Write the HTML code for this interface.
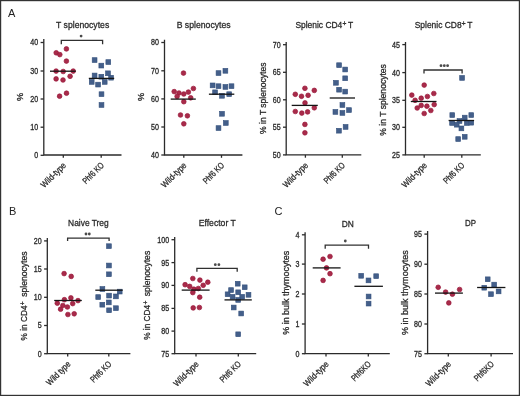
<!DOCTYPE html><html><head><meta charset="utf-8"><style>html,body{margin:0;padding:0;background:#fff;}svg{display:block;will-change:transform;}text{font-family:"Liberation Sans",sans-serif;stroke:#2a2a2a;stroke-width:0.3px;}</style></head><body>
<svg width="520" height="396" viewBox="0 0 520 396">
<rect x="0" y="0" width="520" height="396" fill="#fff"/>
<rect x="0.6" y="0.6" width="518.8" height="394.8" fill="none" stroke="#333" stroke-width="1.2"/>
<text x="8.0" y="16.9" font-size="11" fill="#222" style="stroke-width:0">A</text>
<text x="9.0" y="215.0" font-size="11" fill="#222" style="stroke-width:0">B</text>
<text x="274.6" y="215.0" font-size="11" fill="#222" style="stroke-width:0">C</text>
<g stroke="#2b2b2b" stroke-width="1.3" fill="none" stroke-linecap="butt">
<path d="M43.8 39.0 V155.0 H121.5"/>
<path d="M40.599999999999994 42.5 H43.8"/>
<path d="M40.599999999999994 71.0 H43.8"/>
<path d="M40.599999999999994 99.0 H43.8"/>
<path d="M40.599999999999994 127.2 H43.8"/>
<path d="M40.599999999999994 155.3 H43.8"/>
<path d="M63.3 155.0 V157.8"/>
<path d="M101.2 155.0 V157.8"/>
</g>
<text x="38.199999999999996" y="45.45" font-size="8.2" fill="#2a2a2a" text-anchor="end" textLength="7.90" lengthAdjust="spacingAndGlyphs">40</text>
<text x="38.199999999999996" y="73.95" font-size="8.2" fill="#2a2a2a" text-anchor="end" textLength="7.90" lengthAdjust="spacingAndGlyphs">30</text>
<text x="38.199999999999996" y="101.95" font-size="8.2" fill="#2a2a2a" text-anchor="end" textLength="7.90" lengthAdjust="spacingAndGlyphs">20</text>
<text x="38.199999999999996" y="130.15" font-size="8.2" fill="#2a2a2a" text-anchor="end" textLength="7.90" lengthAdjust="spacingAndGlyphs">10</text>
<text x="38.199999999999996" y="158.25" font-size="8.2" fill="#2a2a2a" text-anchor="end" textLength="3.95" lengthAdjust="spacingAndGlyphs">0</text>
<circle cx="66.4" cy="48.9" r="2.35" fill="#A82B4A" stroke="#99173A" stroke-width="0.7"/>
<circle cx="56.2" cy="52.8" r="2.35" fill="#A82B4A" stroke="#99173A" stroke-width="0.7"/>
<circle cx="59.8" cy="54.6" r="2.35" fill="#A82B4A" stroke="#99173A" stroke-width="0.7"/>
<circle cx="66.4" cy="61.1" r="2.35" fill="#A82B4A" stroke="#99173A" stroke-width="0.7"/>
<circle cx="56.1" cy="71.1" r="2.35" fill="#A82B4A" stroke="#99173A" stroke-width="0.7"/>
<circle cx="63.2" cy="71.5" r="2.35" fill="#A82B4A" stroke="#99173A" stroke-width="0.7"/>
<circle cx="73.2" cy="71.1" r="2.35" fill="#A82B4A" stroke="#99173A" stroke-width="0.7"/>
<circle cx="56.1" cy="78.9" r="2.35" fill="#A82B4A" stroke="#99173A" stroke-width="0.7"/>
<circle cx="63" cy="80" r="2.35" fill="#A82B4A" stroke="#99173A" stroke-width="0.7"/>
<circle cx="70.1" cy="76.3" r="2.35" fill="#A82B4A" stroke="#99173A" stroke-width="0.7"/>
<circle cx="59.6" cy="96.2" r="2.35" fill="#A82B4A" stroke="#99173A" stroke-width="0.7"/>
<circle cx="66.5" cy="93.2" r="2.35" fill="#A82B4A" stroke="#99173A" stroke-width="0.7"/>
<rect x="92.20" y="57.70" width="4.80" height="4.80" fill="#445F8A" stroke="#34507C" stroke-width="0.6"/>
<rect x="105.90" y="59.70" width="4.80" height="4.80" fill="#445F8A" stroke="#34507C" stroke-width="0.6"/>
<rect x="98.90" y="63.20" width="4.80" height="4.80" fill="#445F8A" stroke="#34507C" stroke-width="0.6"/>
<rect x="92.20" y="73.10" width="4.80" height="4.80" fill="#445F8A" stroke="#34507C" stroke-width="0.6"/>
<rect x="98.90" y="74.30" width="4.80" height="4.80" fill="#445F8A" stroke="#34507C" stroke-width="0.6"/>
<rect x="105.60" y="70.90" width="4.80" height="4.80" fill="#445F8A" stroke="#34507C" stroke-width="0.6"/>
<rect x="108.70" y="75.30" width="4.80" height="4.80" fill="#445F8A" stroke="#34507C" stroke-width="0.6"/>
<rect x="89.30" y="79.50" width="4.80" height="4.80" fill="#445F8A" stroke="#34507C" stroke-width="0.6"/>
<rect x="95.70" y="82.20" width="4.80" height="4.80" fill="#445F8A" stroke="#34507C" stroke-width="0.6"/>
<rect x="102.30" y="79.50" width="4.80" height="4.80" fill="#445F8A" stroke="#34507C" stroke-width="0.6"/>
<rect x="99.10" y="91.80" width="4.80" height="4.80" fill="#445F8A" stroke="#34507C" stroke-width="0.6"/>
<rect x="99.10" y="102.60" width="4.80" height="4.80" fill="#445F8A" stroke="#34507C" stroke-width="0.6"/>
<path d="M50 71.2 H75.8" stroke="#151515" stroke-width="1.3"/>
<path d="M88.8 78.4 H114.2" stroke="#151515" stroke-width="1.3"/>
<path d="M61.3 44.3 V40.3 H102.6 V44.3" stroke="#303030" stroke-width="1.3" fill="none"/>
<circle cx="81.1" cy="36.1" r="1.4" fill="#4a4a4a"/>
<text x="56.1" y="28.2" font-size="9.6" fill="#2a2a2a" textLength="53.10" lengthAdjust="spacingAndGlyphs">T splenocytes</text>
<text transform="translate(23.2,97) rotate(-90)" font-size="9.2" fill="#2a2a2a" text-anchor="middle">%</text>
<text transform="translate(66.6,166.0) rotate(-45)" font-size="8.8" fill="#2a2a2a" text-anchor="end" textLength="31.50" lengthAdjust="spacingAndGlyphs">Wild-type</text>
<text transform="translate(104.5,166.0) rotate(-45)" font-size="8.8" fill="#2a2a2a" text-anchor="end" textLength="26.00" lengthAdjust="spacingAndGlyphs">Phf6 KO</text>
<g stroke="#2b2b2b" stroke-width="1.3" fill="none" stroke-linecap="butt">
<path d="M164.5 39.7 V155.0 H242.4"/>
<path d="M161.3 42.5 H164.5"/>
<path d="M161.3 70.8 H164.5"/>
<path d="M161.3 98.9 H164.5"/>
<path d="M161.3 127.0 H164.5"/>
<path d="M161.3 155.0 H164.5"/>
<path d="M183.8 155.0 V157.8"/>
<path d="M221.5 155.0 V157.8"/>
</g>
<text x="158.9" y="45.45" font-size="8.2" fill="#2a2a2a" text-anchor="end" textLength="7.90" lengthAdjust="spacingAndGlyphs">80</text>
<text x="158.9" y="73.75" font-size="8.2" fill="#2a2a2a" text-anchor="end" textLength="7.90" lengthAdjust="spacingAndGlyphs">70</text>
<text x="158.9" y="101.85" font-size="8.2" fill="#2a2a2a" text-anchor="end" textLength="7.90" lengthAdjust="spacingAndGlyphs">60</text>
<text x="158.9" y="129.95" font-size="8.2" fill="#2a2a2a" text-anchor="end" textLength="7.90" lengthAdjust="spacingAndGlyphs">50</text>
<text x="158.9" y="157.95" font-size="8.2" fill="#2a2a2a" text-anchor="end" textLength="7.90" lengthAdjust="spacingAndGlyphs">40</text>
<circle cx="183.5" cy="73.1" r="2.35" fill="#A82B4A" stroke="#99173A" stroke-width="0.7"/>
<circle cx="193.4" cy="88.5" r="2.35" fill="#A82B4A" stroke="#99173A" stroke-width="0.7"/>
<circle cx="174.2" cy="91.6" r="2.35" fill="#A82B4A" stroke="#99173A" stroke-width="0.7"/>
<circle cx="179" cy="93" r="2.35" fill="#A82B4A" stroke="#99173A" stroke-width="0.7"/>
<circle cx="183.8" cy="94" r="2.35" fill="#A82B4A" stroke="#99173A" stroke-width="0.7"/>
<circle cx="188.4" cy="92.1" r="2.35" fill="#A82B4A" stroke="#99173A" stroke-width="0.7"/>
<circle cx="177.1" cy="96.4" r="2.35" fill="#A82B4A" stroke="#99173A" stroke-width="0.7"/>
<circle cx="190.7" cy="97.8" r="2.35" fill="#A82B4A" stroke="#99173A" stroke-width="0.7"/>
<circle cx="183.8" cy="101.7" r="2.35" fill="#A82B4A" stroke="#99173A" stroke-width="0.7"/>
<circle cx="180.5" cy="115" r="2.35" fill="#A82B4A" stroke="#99173A" stroke-width="0.7"/>
<circle cx="187.4" cy="115.8" r="2.35" fill="#A82B4A" stroke="#99173A" stroke-width="0.7"/>
<circle cx="183.8" cy="123.8" r="2.35" fill="#A82B4A" stroke="#99173A" stroke-width="0.7"/>
<rect x="216.10" y="70.70" width="4.80" height="4.80" fill="#445F8A" stroke="#34507C" stroke-width="0.6"/>
<rect x="223.00" y="68.40" width="4.80" height="4.80" fill="#445F8A" stroke="#34507C" stroke-width="0.6"/>
<rect x="210.20" y="83.00" width="4.80" height="4.80" fill="#445F8A" stroke="#34507C" stroke-width="0.6"/>
<rect x="216.10" y="83.80" width="4.80" height="4.80" fill="#445F8A" stroke="#34507C" stroke-width="0.6"/>
<rect x="223.00" y="84.50" width="4.80" height="4.80" fill="#445F8A" stroke="#34507C" stroke-width="0.6"/>
<rect x="229.10" y="83.80" width="4.80" height="4.80" fill="#445F8A" stroke="#34507C" stroke-width="0.6"/>
<rect x="212.70" y="89.90" width="4.80" height="4.80" fill="#445F8A" stroke="#34507C" stroke-width="0.6"/>
<rect x="219.60" y="93.40" width="4.80" height="4.80" fill="#445F8A" stroke="#34507C" stroke-width="0.6"/>
<rect x="226.80" y="91.80" width="4.80" height="4.80" fill="#445F8A" stroke="#34507C" stroke-width="0.6"/>
<rect x="219.60" y="111.40" width="4.80" height="4.80" fill="#445F8A" stroke="#34507C" stroke-width="0.6"/>
<rect x="223.40" y="120.60" width="4.80" height="4.80" fill="#445F8A" stroke="#34507C" stroke-width="0.6"/>
<rect x="216.10" y="125.70" width="4.80" height="4.80" fill="#445F8A" stroke="#34507C" stroke-width="0.6"/>
<path d="M170.7 99.1 H195.8" stroke="#151515" stroke-width="1.3"/>
<path d="M208.9 94.2 H234.3" stroke="#151515" stroke-width="1.3"/>
<text x="176.7" y="28.2" font-size="9.6" fill="#2a2a2a" textLength="53.90" lengthAdjust="spacingAndGlyphs">B splenocytes</text>
<text transform="translate(144.4,97) rotate(-90)" font-size="9.2" fill="#2a2a2a" text-anchor="middle">%</text>
<text transform="translate(187.10000000000002,166.0) rotate(-45)" font-size="8.8" fill="#2a2a2a" text-anchor="end" textLength="31.50" lengthAdjust="spacingAndGlyphs">Wild-type</text>
<text transform="translate(224.8,166.0) rotate(-45)" font-size="8.8" fill="#2a2a2a" text-anchor="end" textLength="26.00" lengthAdjust="spacingAndGlyphs">Phf6 KO</text>
<g stroke="#2b2b2b" stroke-width="1.3" fill="none" stroke-linecap="butt">
<path d="M286.2 42.1 V154.9 H361.3"/>
<path d="M283.0 44.7 H286.2"/>
<path d="M283.0 72.3 H286.2"/>
<path d="M283.0 99.8 H286.2"/>
<path d="M283.0 127.2 H286.2"/>
<path d="M283.0 154.9 H286.2"/>
<path d="M305.4 154.9 V157.70000000000002"/>
<path d="M342.3 154.9 V157.70000000000002"/>
</g>
<text x="280.59999999999997" y="47.65" font-size="8.2" fill="#2a2a2a" text-anchor="end" textLength="7.90" lengthAdjust="spacingAndGlyphs">70</text>
<text x="280.59999999999997" y="75.25" font-size="8.2" fill="#2a2a2a" text-anchor="end" textLength="7.90" lengthAdjust="spacingAndGlyphs">65</text>
<text x="280.59999999999997" y="102.75" font-size="8.2" fill="#2a2a2a" text-anchor="end" textLength="7.90" lengthAdjust="spacingAndGlyphs">60</text>
<text x="280.59999999999997" y="130.15" font-size="8.2" fill="#2a2a2a" text-anchor="end" textLength="7.90" lengthAdjust="spacingAndGlyphs">55</text>
<text x="280.59999999999997" y="157.85" font-size="8.2" fill="#2a2a2a" text-anchor="end" textLength="7.90" lengthAdjust="spacingAndGlyphs">50</text>
<circle cx="304.9" cy="88.3" r="2.35" fill="#A82B4A" stroke="#99173A" stroke-width="0.7"/>
<circle cx="314.3" cy="90.4" r="2.35" fill="#A82B4A" stroke="#99173A" stroke-width="0.7"/>
<circle cx="295.3" cy="94.3" r="2.35" fill="#A82B4A" stroke="#99173A" stroke-width="0.7"/>
<circle cx="301.5" cy="96.3" r="2.35" fill="#A82B4A" stroke="#99173A" stroke-width="0.7"/>
<circle cx="308.1" cy="95.3" r="2.35" fill="#A82B4A" stroke="#99173A" stroke-width="0.7"/>
<circle cx="305" cy="102.9" r="2.35" fill="#A82B4A" stroke="#99173A" stroke-width="0.7"/>
<circle cx="314.3" cy="107.8" r="2.35" fill="#A82B4A" stroke="#99173A" stroke-width="0.7"/>
<circle cx="295.3" cy="111.5" r="2.35" fill="#A82B4A" stroke="#99173A" stroke-width="0.7"/>
<circle cx="301.8" cy="113.1" r="2.35" fill="#A82B4A" stroke="#99173A" stroke-width="0.7"/>
<circle cx="307.6" cy="111.9" r="2.35" fill="#A82B4A" stroke="#99173A" stroke-width="0.7"/>
<circle cx="304.9" cy="124.4" r="2.35" fill="#A82B4A" stroke="#99173A" stroke-width="0.7"/>
<circle cx="304.9" cy="132.8" r="2.35" fill="#A82B4A" stroke="#99173A" stroke-width="0.7"/>
<rect x="336.70" y="62.80" width="4.80" height="4.80" fill="#445F8A" stroke="#34507C" stroke-width="0.6"/>
<rect x="342.80" y="67.10" width="4.80" height="4.80" fill="#445F8A" stroke="#34507C" stroke-width="0.6"/>
<rect x="342.80" y="75.90" width="4.80" height="4.80" fill="#445F8A" stroke="#34507C" stroke-width="0.6"/>
<rect x="333.50" y="80.40" width="4.80" height="4.80" fill="#445F8A" stroke="#34507C" stroke-width="0.6"/>
<rect x="336.70" y="87.30" width="4.80" height="4.80" fill="#445F8A" stroke="#34507C" stroke-width="0.6"/>
<rect x="342.80" y="89.20" width="4.80" height="4.80" fill="#445F8A" stroke="#34507C" stroke-width="0.6"/>
<rect x="340.00" y="102.60" width="4.80" height="4.80" fill="#445F8A" stroke="#34507C" stroke-width="0.6"/>
<rect x="333.00" y="109.50" width="4.80" height="4.80" fill="#445F8A" stroke="#34507C" stroke-width="0.6"/>
<rect x="340.00" y="110.50" width="4.80" height="4.80" fill="#445F8A" stroke="#34507C" stroke-width="0.6"/>
<rect x="346.60" y="107.70" width="4.80" height="4.80" fill="#445F8A" stroke="#34507C" stroke-width="0.6"/>
<rect x="343.20" y="124.50" width="4.80" height="4.80" fill="#445F8A" stroke="#34507C" stroke-width="0.6"/>
<rect x="336.50" y="128.30" width="4.80" height="4.80" fill="#445F8A" stroke="#34507C" stroke-width="0.6"/>
<path d="M291.7 105.4 H317.8" stroke="#151515" stroke-width="1.3"/>
<path d="M329.7 98.0 H355" stroke="#151515" stroke-width="1.3"/>
<text x="295.4" y="28.3" font-size="9.6" fill="#2a2a2a" textLength="46.9" lengthAdjust="spacingAndGlyphs">Splenic CD4</text>
<text x="342.40" y="26.20" font-size="7" fill="#2a2a2a" textLength="3.9" lengthAdjust="spacingAndGlyphs">+</text>
<text x="347.90" y="28.3" font-size="9.6" fill="#2a2a2a" textLength="5.2" lengthAdjust="spacingAndGlyphs">T</text>
<text transform="translate(265.6,133.9) rotate(-90)" font-size="9.2" fill="#2a2a2a" textLength="71.30" lengthAdjust="spacingAndGlyphs">% in T splenocytes</text>
<text transform="translate(308.7,165.9) rotate(-45)" font-size="8.8" fill="#2a2a2a" text-anchor="end" textLength="31.50" lengthAdjust="spacingAndGlyphs">Wild-type</text>
<text transform="translate(345.6,165.9) rotate(-45)" font-size="8.8" fill="#2a2a2a" text-anchor="end" textLength="26.00" lengthAdjust="spacingAndGlyphs">Phf6 KO</text>
<g stroke="#2b2b2b" stroke-width="1.3" fill="none" stroke-linecap="butt">
<path d="M405.5 42.1 V154.9 H480.8"/>
<path d="M402.3 44.6 H405.5"/>
<path d="M402.3 72.6 H405.5"/>
<path d="M402.3 100.3 H405.5"/>
<path d="M402.3 127.3 H405.5"/>
<path d="M402.3 154.9 H405.5"/>
<path d="M424.2 154.9 V157.70000000000002"/>
<path d="M461.8 154.9 V157.70000000000002"/>
</g>
<text x="399.9" y="47.55" font-size="8.2" fill="#2a2a2a" text-anchor="end" textLength="7.90" lengthAdjust="spacingAndGlyphs">45</text>
<text x="399.9" y="75.55" font-size="8.2" fill="#2a2a2a" text-anchor="end" textLength="7.90" lengthAdjust="spacingAndGlyphs">40</text>
<text x="399.9" y="103.25" font-size="8.2" fill="#2a2a2a" text-anchor="end" textLength="7.90" lengthAdjust="spacingAndGlyphs">35</text>
<text x="399.9" y="130.25" font-size="8.2" fill="#2a2a2a" text-anchor="end" textLength="7.90" lengthAdjust="spacingAndGlyphs">30</text>
<text x="399.9" y="157.85" font-size="8.2" fill="#2a2a2a" text-anchor="end" textLength="7.90" lengthAdjust="spacingAndGlyphs">25</text>
<circle cx="424.2" cy="85.1" r="2.35" fill="#A82B4A" stroke="#99173A" stroke-width="0.7"/>
<circle cx="411.8" cy="95.1" r="2.35" fill="#A82B4A" stroke="#99173A" stroke-width="0.7"/>
<circle cx="433.8" cy="93.5" r="2.35" fill="#A82B4A" stroke="#99173A" stroke-width="0.7"/>
<circle cx="427.4" cy="96.5" r="2.35" fill="#A82B4A" stroke="#99173A" stroke-width="0.7"/>
<circle cx="421.2" cy="98.2" r="2.35" fill="#A82B4A" stroke="#99173A" stroke-width="0.7"/>
<circle cx="415.1" cy="100.3" r="2.35" fill="#A82B4A" stroke="#99173A" stroke-width="0.7"/>
<circle cx="434.2" cy="104.6" r="2.35" fill="#A82B4A" stroke="#99173A" stroke-width="0.7"/>
<circle cx="421.2" cy="105.4" r="2.35" fill="#A82B4A" stroke="#99173A" stroke-width="0.7"/>
<circle cx="426.9" cy="106.2" r="2.35" fill="#A82B4A" stroke="#99173A" stroke-width="0.7"/>
<circle cx="417.2" cy="108" r="2.35" fill="#A82B4A" stroke="#99173A" stroke-width="0.7"/>
<circle cx="430.8" cy="110.5" r="2.35" fill="#A82B4A" stroke="#99173A" stroke-width="0.7"/>
<circle cx="424.2" cy="113.5" r="2.35" fill="#A82B4A" stroke="#99173A" stroke-width="0.7"/>
<rect x="459.70" y="75.50" width="4.80" height="4.80" fill="#445F8A" stroke="#34507C" stroke-width="0.6"/>
<rect x="449.90" y="112.70" width="4.80" height="4.80" fill="#445F8A" stroke="#34507C" stroke-width="0.6"/>
<rect x="468.90" y="112.70" width="4.80" height="4.80" fill="#445F8A" stroke="#34507C" stroke-width="0.6"/>
<rect x="462.30" y="115.20" width="4.80" height="4.80" fill="#445F8A" stroke="#34507C" stroke-width="0.6"/>
<rect x="457.10" y="118.60" width="4.80" height="4.80" fill="#445F8A" stroke="#34507C" stroke-width="0.6"/>
<rect x="449.70" y="120.60" width="4.80" height="4.80" fill="#445F8A" stroke="#34507C" stroke-width="0.6"/>
<rect x="454.30" y="122.30" width="4.80" height="4.80" fill="#445F8A" stroke="#34507C" stroke-width="0.6"/>
<rect x="459.00" y="126.00" width="4.80" height="4.80" fill="#445F8A" stroke="#34507C" stroke-width="0.6"/>
<rect x="464.40" y="120.60" width="4.80" height="4.80" fill="#445F8A" stroke="#34507C" stroke-width="0.6"/>
<rect x="468.90" y="120.30" width="4.80" height="4.80" fill="#445F8A" stroke="#34507C" stroke-width="0.6"/>
<rect x="455.80" y="136.70" width="4.80" height="4.80" fill="#445F8A" stroke="#34507C" stroke-width="0.6"/>
<rect x="462.30" y="134.40" width="4.80" height="4.80" fill="#445F8A" stroke="#34507C" stroke-width="0.6"/>
<path d="M410.8 101.5 H436.5" stroke="#151515" stroke-width="1.3"/>
<path d="M448.6 120.5 H474.1" stroke="#151515" stroke-width="1.3"/>
<path d="M424.0 73.6 V70.0 H462.1 V73.6" stroke="#303030" stroke-width="1.3" fill="none"/>
<circle cx="441.0" cy="65.7" r="1.4" fill="#4a4a4a"/>
<circle cx="444.3" cy="65.7" r="1.4" fill="#4a4a4a"/>
<circle cx="447.6" cy="65.7" r="1.4" fill="#4a4a4a"/>
<text x="414.7" y="28.3" font-size="9.6" fill="#2a2a2a" textLength="46.9" lengthAdjust="spacingAndGlyphs">Splenic CD8</text>
<text x="461.70" y="26.20" font-size="7" fill="#2a2a2a" textLength="3.9" lengthAdjust="spacingAndGlyphs">+</text>
<text x="467.20" y="28.3" font-size="9.6" fill="#2a2a2a" textLength="5.2" lengthAdjust="spacingAndGlyphs">T</text>
<text transform="translate(385.6,135.7) rotate(-90)" font-size="9.2" fill="#2a2a2a" textLength="71.60" lengthAdjust="spacingAndGlyphs">% in T splenocytes</text>
<text transform="translate(427.5,165.9) rotate(-45)" font-size="8.8" fill="#2a2a2a" text-anchor="end" textLength="31.50" lengthAdjust="spacingAndGlyphs">Wild-type</text>
<text transform="translate(465.1,165.9) rotate(-45)" font-size="8.8" fill="#2a2a2a" text-anchor="end" textLength="26.00" lengthAdjust="spacingAndGlyphs">Phf6 KO</text>
<g stroke="#2b2b2b" stroke-width="1.3" fill="none" stroke-linecap="butt">
<path d="M47.3 237.9 V353.7 H130.4"/>
<path d="M44.099999999999994 240.9 H47.3"/>
<path d="M44.099999999999994 269.0 H47.3"/>
<path d="M44.099999999999994 297.3 H47.3"/>
<path d="M44.099999999999994 325.5 H47.3"/>
<path d="M44.099999999999994 353.7 H47.3"/>
<path d="M67.7 353.7 V356.5"/>
<path d="M108.8 353.7 V356.5"/>
</g>
<text x="41.699999999999996" y="243.85" font-size="8.2" fill="#2a2a2a" text-anchor="end" textLength="7.90" lengthAdjust="spacingAndGlyphs">20</text>
<text x="41.699999999999996" y="271.95" font-size="8.2" fill="#2a2a2a" text-anchor="end" textLength="7.90" lengthAdjust="spacingAndGlyphs">15</text>
<text x="41.699999999999996" y="300.25" font-size="8.2" fill="#2a2a2a" text-anchor="end" textLength="7.90" lengthAdjust="spacingAndGlyphs">10</text>
<text x="41.699999999999996" y="328.45" font-size="8.2" fill="#2a2a2a" text-anchor="end" textLength="3.95" lengthAdjust="spacingAndGlyphs">5</text>
<text x="41.699999999999996" y="356.65" font-size="8.2" fill="#2a2a2a" text-anchor="end" textLength="3.95" lengthAdjust="spacingAndGlyphs">0</text>
<circle cx="64.1" cy="273.6" r="2.35" fill="#A82B4A" stroke="#99173A" stroke-width="0.7"/>
<circle cx="71.2" cy="276.4" r="2.35" fill="#A82B4A" stroke="#99173A" stroke-width="0.7"/>
<circle cx="64.4" cy="299.7" r="2.35" fill="#A82B4A" stroke="#99173A" stroke-width="0.7"/>
<circle cx="70.9" cy="297.9" r="2.35" fill="#A82B4A" stroke="#99173A" stroke-width="0.7"/>
<circle cx="78" cy="300.6" r="2.35" fill="#A82B4A" stroke="#99173A" stroke-width="0.7"/>
<circle cx="57.3" cy="303.2" r="2.35" fill="#A82B4A" stroke="#99173A" stroke-width="0.7"/>
<circle cx="62.9" cy="305.5" r="2.35" fill="#A82B4A" stroke="#99173A" stroke-width="0.7"/>
<circle cx="72.7" cy="303.6" r="2.35" fill="#A82B4A" stroke="#99173A" stroke-width="0.7"/>
<circle cx="67.4" cy="307" r="2.35" fill="#A82B4A" stroke="#99173A" stroke-width="0.7"/>
<circle cx="60.6" cy="309.2" r="2.35" fill="#A82B4A" stroke="#99173A" stroke-width="0.7"/>
<circle cx="67.9" cy="314.5" r="2.35" fill="#A82B4A" stroke="#99173A" stroke-width="0.7"/>
<circle cx="74.2" cy="313.8" r="2.35" fill="#A82B4A" stroke="#99173A" stroke-width="0.7"/>
<rect x="106.50" y="243.80" width="4.80" height="4.80" fill="#445F8A" stroke="#34507C" stroke-width="0.6"/>
<rect x="106.50" y="263.10" width="4.80" height="4.80" fill="#445F8A" stroke="#34507C" stroke-width="0.6"/>
<rect x="106.50" y="271.90" width="4.80" height="4.80" fill="#445F8A" stroke="#34507C" stroke-width="0.6"/>
<rect x="100.00" y="286.60" width="4.80" height="4.80" fill="#445F8A" stroke="#34507C" stroke-width="0.6"/>
<rect x="117.30" y="289.20" width="4.80" height="4.80" fill="#445F8A" stroke="#34507C" stroke-width="0.6"/>
<rect x="95.80" y="294.70" width="4.80" height="4.80" fill="#445F8A" stroke="#34507C" stroke-width="0.6"/>
<rect x="106.70" y="293.20" width="4.80" height="4.80" fill="#445F8A" stroke="#34507C" stroke-width="0.6"/>
<rect x="113.50" y="294.00" width="4.80" height="4.80" fill="#445F8A" stroke="#34507C" stroke-width="0.6"/>
<rect x="106.40" y="300.00" width="4.80" height="4.80" fill="#445F8A" stroke="#34507C" stroke-width="0.6"/>
<rect x="99.90" y="302.30" width="4.80" height="4.80" fill="#445F8A" stroke="#34507C" stroke-width="0.6"/>
<rect x="106.70" y="307.90" width="4.80" height="4.80" fill="#445F8A" stroke="#34507C" stroke-width="0.6"/>
<rect x="113.50" y="305.80" width="4.80" height="4.80" fill="#445F8A" stroke="#34507C" stroke-width="0.6"/>
<path d="M54.2 300.5 H81.8" stroke="#151515" stroke-width="1.3"/>
<path d="M95.3 290.2 H122.7" stroke="#151515" stroke-width="1.3"/>
<path d="M67.6 240.9 V238.1 H109.1 V240.9" stroke="#303030" stroke-width="1.3" fill="none"/>
<circle cx="86.0" cy="234.0" r="1.4" fill="#4a4a4a"/>
<circle cx="89.3" cy="234.0" r="1.4" fill="#4a4a4a"/>
<text x="68.1" y="225.9" font-size="9.6" fill="#2a2a2a" textLength="40.60" lengthAdjust="spacingAndGlyphs">Naive Treg</text>
<g transform="translate(26.9,340.4) rotate(-90)">
<text x="0" y="0" font-size="9.2" fill="#2a2a2a" textLength="34.9" lengthAdjust="spacingAndGlyphs">% in CD4</text>
<text x="35.2" y="-2.3" font-size="6.5" fill="#2a2a2a" textLength="3.9" lengthAdjust="spacingAndGlyphs">+</text>
<text x="43.60" y="0" font-size="9.2" fill="#2a2a2a" textLength="45.40" lengthAdjust="spacingAndGlyphs">splenocytes</text>
</g>
<text transform="translate(71.0,364.7) rotate(-45)" font-size="8.8" fill="#2a2a2a" text-anchor="end" textLength="30.00" lengthAdjust="spacingAndGlyphs">Wild type</text>
<text transform="translate(112.1,364.7) rotate(-45)" font-size="8.8" fill="#2a2a2a" text-anchor="end" textLength="26.00" lengthAdjust="spacingAndGlyphs">Phf6 KO</text>
<g stroke="#2b2b2b" stroke-width="1.3" fill="none" stroke-linecap="butt">
<path d="M174.7 237.0 V353.7 H256.2"/>
<path d="M171.5 239.7 H174.7"/>
<path d="M171.5 262.6 H174.7"/>
<path d="M171.5 285.4 H174.7"/>
<path d="M171.5 308.4 H174.7"/>
<path d="M171.5 331.1 H174.7"/>
<path d="M171.5 353.7 H174.7"/>
<path d="M196.0 353.7 V356.5"/>
<path d="M238.3 353.7 V356.5"/>
</g>
<text x="169.1" y="242.65" font-size="8.2" fill="#2a2a2a" text-anchor="end" textLength="11.85" lengthAdjust="spacingAndGlyphs">100</text>
<text x="169.1" y="265.55" font-size="8.2" fill="#2a2a2a" text-anchor="end" textLength="7.90" lengthAdjust="spacingAndGlyphs">95</text>
<text x="169.1" y="288.35" font-size="8.2" fill="#2a2a2a" text-anchor="end" textLength="7.90" lengthAdjust="spacingAndGlyphs">90</text>
<text x="169.1" y="311.35" font-size="8.2" fill="#2a2a2a" text-anchor="end" textLength="7.90" lengthAdjust="spacingAndGlyphs">85</text>
<text x="169.1" y="334.05" font-size="8.2" fill="#2a2a2a" text-anchor="end" textLength="7.90" lengthAdjust="spacingAndGlyphs">80</text>
<text x="169.1" y="356.65" font-size="8.2" fill="#2a2a2a" text-anchor="end" textLength="7.90" lengthAdjust="spacingAndGlyphs">75</text>
<circle cx="192.8" cy="278.5" r="2.35" fill="#A82B4A" stroke="#99173A" stroke-width="0.7"/>
<circle cx="199.9" cy="280.1" r="2.35" fill="#A82B4A" stroke="#99173A" stroke-width="0.7"/>
<circle cx="207.8" cy="282.2" r="2.35" fill="#A82B4A" stroke="#99173A" stroke-width="0.7"/>
<circle cx="185.1" cy="284.7" r="2.35" fill="#A82B4A" stroke="#99173A" stroke-width="0.7"/>
<circle cx="189.7" cy="286.4" r="2.35" fill="#A82B4A" stroke="#99173A" stroke-width="0.7"/>
<circle cx="203.2" cy="285.3" r="2.35" fill="#A82B4A" stroke="#99173A" stroke-width="0.7"/>
<circle cx="193.9" cy="289.2" r="2.35" fill="#A82B4A" stroke="#99173A" stroke-width="0.7"/>
<circle cx="198.3" cy="288.5" r="2.35" fill="#A82B4A" stroke="#99173A" stroke-width="0.7"/>
<circle cx="192.8" cy="292.6" r="2.35" fill="#A82B4A" stroke="#99173A" stroke-width="0.7"/>
<circle cx="199.7" cy="297.2" r="2.35" fill="#A82B4A" stroke="#99173A" stroke-width="0.7"/>
<circle cx="193.2" cy="307.9" r="2.35" fill="#A82B4A" stroke="#99173A" stroke-width="0.7"/>
<circle cx="199.4" cy="307.5" r="2.35" fill="#A82B4A" stroke="#99173A" stroke-width="0.7"/>
<rect x="235.30" y="281.30" width="4.80" height="4.80" fill="#445F8A" stroke="#34507C" stroke-width="0.6"/>
<rect x="242.30" y="284.90" width="4.80" height="4.80" fill="#445F8A" stroke="#34507C" stroke-width="0.6"/>
<rect x="228.70" y="287.70" width="4.80" height="4.80" fill="#445F8A" stroke="#34507C" stroke-width="0.6"/>
<rect x="235.80" y="289.90" width="4.80" height="4.80" fill="#445F8A" stroke="#34507C" stroke-width="0.6"/>
<rect x="225.20" y="291.90" width="4.80" height="4.80" fill="#445F8A" stroke="#34507C" stroke-width="0.6"/>
<rect x="246.10" y="292.40" width="4.80" height="4.80" fill="#445F8A" stroke="#34507C" stroke-width="0.6"/>
<rect x="230.20" y="294.40" width="4.80" height="4.80" fill="#445F8A" stroke="#34507C" stroke-width="0.6"/>
<rect x="239.80" y="294.40" width="4.80" height="4.80" fill="#445F8A" stroke="#34507C" stroke-width="0.6"/>
<rect x="235.80" y="297.50" width="4.80" height="4.80" fill="#445F8A" stroke="#34507C" stroke-width="0.6"/>
<rect x="231.30" y="305.10" width="4.80" height="4.80" fill="#445F8A" stroke="#34507C" stroke-width="0.6"/>
<rect x="238.80" y="311.10" width="4.80" height="4.80" fill="#445F8A" stroke="#34507C" stroke-width="0.6"/>
<rect x="235.80" y="331.90" width="4.80" height="4.80" fill="#445F8A" stroke="#34507C" stroke-width="0.6"/>
<path d="M181.7 290.1 H209.6" stroke="#151515" stroke-width="1.3"/>
<path d="M224.5 299.9 H251.8" stroke="#151515" stroke-width="1.3"/>
<path d="M196.9 271.7 V268.4 H237.2 V271.7" stroke="#303030" stroke-width="1.3" fill="none"/>
<circle cx="215.3" cy="264.7" r="1.4" fill="#4a4a4a"/>
<circle cx="218.9" cy="264.7" r="1.4" fill="#4a4a4a"/>
<text x="198.7" y="225.9" font-size="9.6" fill="#2a2a2a" textLength="37.10" lengthAdjust="spacingAndGlyphs">Effector T</text>
<g transform="translate(150.4,339.8) rotate(-90)">
<text x="0" y="0" font-size="9.2" fill="#2a2a2a" textLength="34.9" lengthAdjust="spacingAndGlyphs">% in CD4</text>
<text x="35.2" y="-2.3" font-size="6.5" fill="#2a2a2a" textLength="3.9" lengthAdjust="spacingAndGlyphs">+</text>
<text x="43.60" y="0" font-size="9.2" fill="#2a2a2a" textLength="45.40" lengthAdjust="spacingAndGlyphs">splenocytes</text>
</g>
<text transform="translate(199.3,364.7) rotate(-45)" font-size="8.8" fill="#2a2a2a" text-anchor="end" textLength="31.50" lengthAdjust="spacingAndGlyphs">Wild-type</text>
<text transform="translate(241.60000000000002,364.7) rotate(-45)" font-size="8.8" fill="#2a2a2a" text-anchor="end" textLength="26.00" lengthAdjust="spacingAndGlyphs">Phf6 KO</text>
<g stroke="#2b2b2b" stroke-width="1.3" fill="none" stroke-linecap="butt">
<path d="M305.1 232.2 V353.7 H389.8"/>
<path d="M301.90000000000003 234.8 H305.1"/>
<path d="M301.90000000000003 264.1 H305.1"/>
<path d="M301.90000000000003 294.0 H305.1"/>
<path d="M301.90000000000003 324.0 H305.1"/>
<path d="M301.90000000000003 353.7 H305.1"/>
<path d="M326.0 353.7 V356.5"/>
<path d="M368.3 353.7 V356.5"/>
</g>
<text x="299.5" y="237.75" font-size="8.2" fill="#2a2a2a" text-anchor="end" textLength="3.95" lengthAdjust="spacingAndGlyphs">4</text>
<text x="299.5" y="267.05" font-size="8.2" fill="#2a2a2a" text-anchor="end" textLength="3.95" lengthAdjust="spacingAndGlyphs">3</text>
<text x="299.5" y="296.95" font-size="8.2" fill="#2a2a2a" text-anchor="end" textLength="3.95" lengthAdjust="spacingAndGlyphs">2</text>
<text x="299.5" y="326.95" font-size="8.2" fill="#2a2a2a" text-anchor="end" textLength="3.95" lengthAdjust="spacingAndGlyphs">1</text>
<text x="299.5" y="356.65" font-size="8.2" fill="#2a2a2a" text-anchor="end" textLength="3.95" lengthAdjust="spacingAndGlyphs">0</text>
<circle cx="330" cy="256.5" r="2.35" fill="#A82B4A" stroke="#99173A" stroke-width="0.7"/>
<circle cx="323.1" cy="259.2" r="2.35" fill="#A82B4A" stroke="#99173A" stroke-width="0.7"/>
<circle cx="326.5" cy="267.9" r="2.35" fill="#A82B4A" stroke="#99173A" stroke-width="0.7"/>
<circle cx="330" cy="273.7" r="2.35" fill="#A82B4A" stroke="#99173A" stroke-width="0.7"/>
<circle cx="323.1" cy="280.4" r="2.35" fill="#A82B4A" stroke="#99173A" stroke-width="0.7"/>
<rect x="358.80" y="273.40" width="4.80" height="4.80" fill="#445F8A" stroke="#34507C" stroke-width="0.6"/>
<rect x="366.10" y="278.00" width="4.80" height="4.80" fill="#445F8A" stroke="#34507C" stroke-width="0.6"/>
<rect x="373.80" y="273.80" width="4.80" height="4.80" fill="#445F8A" stroke="#34507C" stroke-width="0.6"/>
<rect x="366.20" y="294.10" width="4.80" height="4.80" fill="#445F8A" stroke="#34507C" stroke-width="0.6"/>
<rect x="366.20" y="301.20" width="4.80" height="4.80" fill="#445F8A" stroke="#34507C" stroke-width="0.6"/>
<path d="M312.7 267.9 H340.6" stroke="#151515" stroke-width="1.3"/>
<path d="M354.4 286.3 H382.9" stroke="#151515" stroke-width="1.3"/>
<path d="M325.2 248.7 V245.1 H368.5 V248.7" stroke="#303030" stroke-width="1.3" fill="none"/>
<circle cx="345.3" cy="241.0" r="1.4" fill="#4a4a4a"/>
<text x="341.8" y="226.8" font-size="9.6" fill="#2a2a2a" textLength="12.10" lengthAdjust="spacingAndGlyphs">DN</text>
<text transform="translate(289.0,334.8) rotate(-90)" font-size="9.2" fill="#2a2a2a" textLength="84.10" lengthAdjust="spacingAndGlyphs">% in bulk thymocytes</text>
<text transform="translate(329.3,364.7) rotate(-45)" font-size="8.8" fill="#2a2a2a" text-anchor="end" textLength="31.50" lengthAdjust="spacingAndGlyphs">Wild-type</text>
<text transform="translate(371.6,364.7) rotate(-45)" font-size="8.8" fill="#2a2a2a" text-anchor="end" textLength="24.00" lengthAdjust="spacingAndGlyphs">Phf6KO</text>
<g stroke="#2b2b2b" stroke-width="1.3" fill="none" stroke-linecap="butt">
<path d="M427.6 231.0 V353.7 H513.0"/>
<path d="M424.40000000000003 234.1 H427.6"/>
<path d="M424.40000000000003 264.2 H427.6"/>
<path d="M424.40000000000003 294.0 H427.6"/>
<path d="M424.40000000000003 324.0 H427.6"/>
<path d="M424.40000000000003 353.7 H427.6"/>
<path d="M448.3 353.7 V356.5"/>
<path d="M491.1 353.7 V356.5"/>
</g>
<text x="422.0" y="237.05" font-size="8.2" fill="#2a2a2a" text-anchor="end" textLength="7.90" lengthAdjust="spacingAndGlyphs">95</text>
<text x="422.0" y="267.15" font-size="8.2" fill="#2a2a2a" text-anchor="end" textLength="7.90" lengthAdjust="spacingAndGlyphs">90</text>
<text x="422.0" y="296.95" font-size="8.2" fill="#2a2a2a" text-anchor="end" textLength="7.90" lengthAdjust="spacingAndGlyphs">85</text>
<text x="422.0" y="326.95" font-size="8.2" fill="#2a2a2a" text-anchor="end" textLength="7.90" lengthAdjust="spacingAndGlyphs">80</text>
<text x="422.0" y="356.65" font-size="8.2" fill="#2a2a2a" text-anchor="end" textLength="7.90" lengthAdjust="spacingAndGlyphs">75</text>
<circle cx="438.2" cy="287.3" r="2.35" fill="#A82B4A" stroke="#99173A" stroke-width="0.7"/>
<circle cx="445.6" cy="292.1" r="2.35" fill="#A82B4A" stroke="#99173A" stroke-width="0.7"/>
<circle cx="452.4" cy="294.2" r="2.35" fill="#A82B4A" stroke="#99173A" stroke-width="0.7"/>
<circle cx="459.6" cy="289.5" r="2.35" fill="#A82B4A" stroke="#99173A" stroke-width="0.7"/>
<circle cx="448.8" cy="302.9" r="2.35" fill="#A82B4A" stroke="#99173A" stroke-width="0.7"/>
<rect x="485.30" y="276.90" width="4.80" height="4.80" fill="#445F8A" stroke="#34507C" stroke-width="0.6"/>
<rect x="491.80" y="282.20" width="4.80" height="4.80" fill="#445F8A" stroke="#34507C" stroke-width="0.6"/>
<rect x="481.90" y="285.30" width="4.80" height="4.80" fill="#445F8A" stroke="#34507C" stroke-width="0.6"/>
<rect x="496.20" y="289.00" width="4.80" height="4.80" fill="#445F8A" stroke="#34507C" stroke-width="0.6"/>
<rect x="488.60" y="291.80" width="4.80" height="4.80" fill="#445F8A" stroke="#34507C" stroke-width="0.6"/>
<path d="M435 293.1 H462.9" stroke="#151515" stroke-width="1.3"/>
<path d="M477.1 287.5 H505.4" stroke="#151515" stroke-width="1.3"/>
<text x="465.1" y="226.3" font-size="9.6" fill="#2a2a2a" textLength="11.00" lengthAdjust="spacingAndGlyphs">DP</text>
<text transform="translate(407.5,335.0) rotate(-90)" font-size="9.2" fill="#2a2a2a" textLength="84.70" lengthAdjust="spacingAndGlyphs">% in bulk thymocytes</text>
<text transform="translate(451.6,364.7) rotate(-45)" font-size="8.8" fill="#2a2a2a" text-anchor="end" textLength="31.50" lengthAdjust="spacingAndGlyphs">Wild-type</text>
<text transform="translate(494.40000000000003,364.7) rotate(-45)" font-size="8.8" fill="#2a2a2a" text-anchor="end" textLength="24.00" lengthAdjust="spacingAndGlyphs">Phf6KO</text>
</svg></body></html>
